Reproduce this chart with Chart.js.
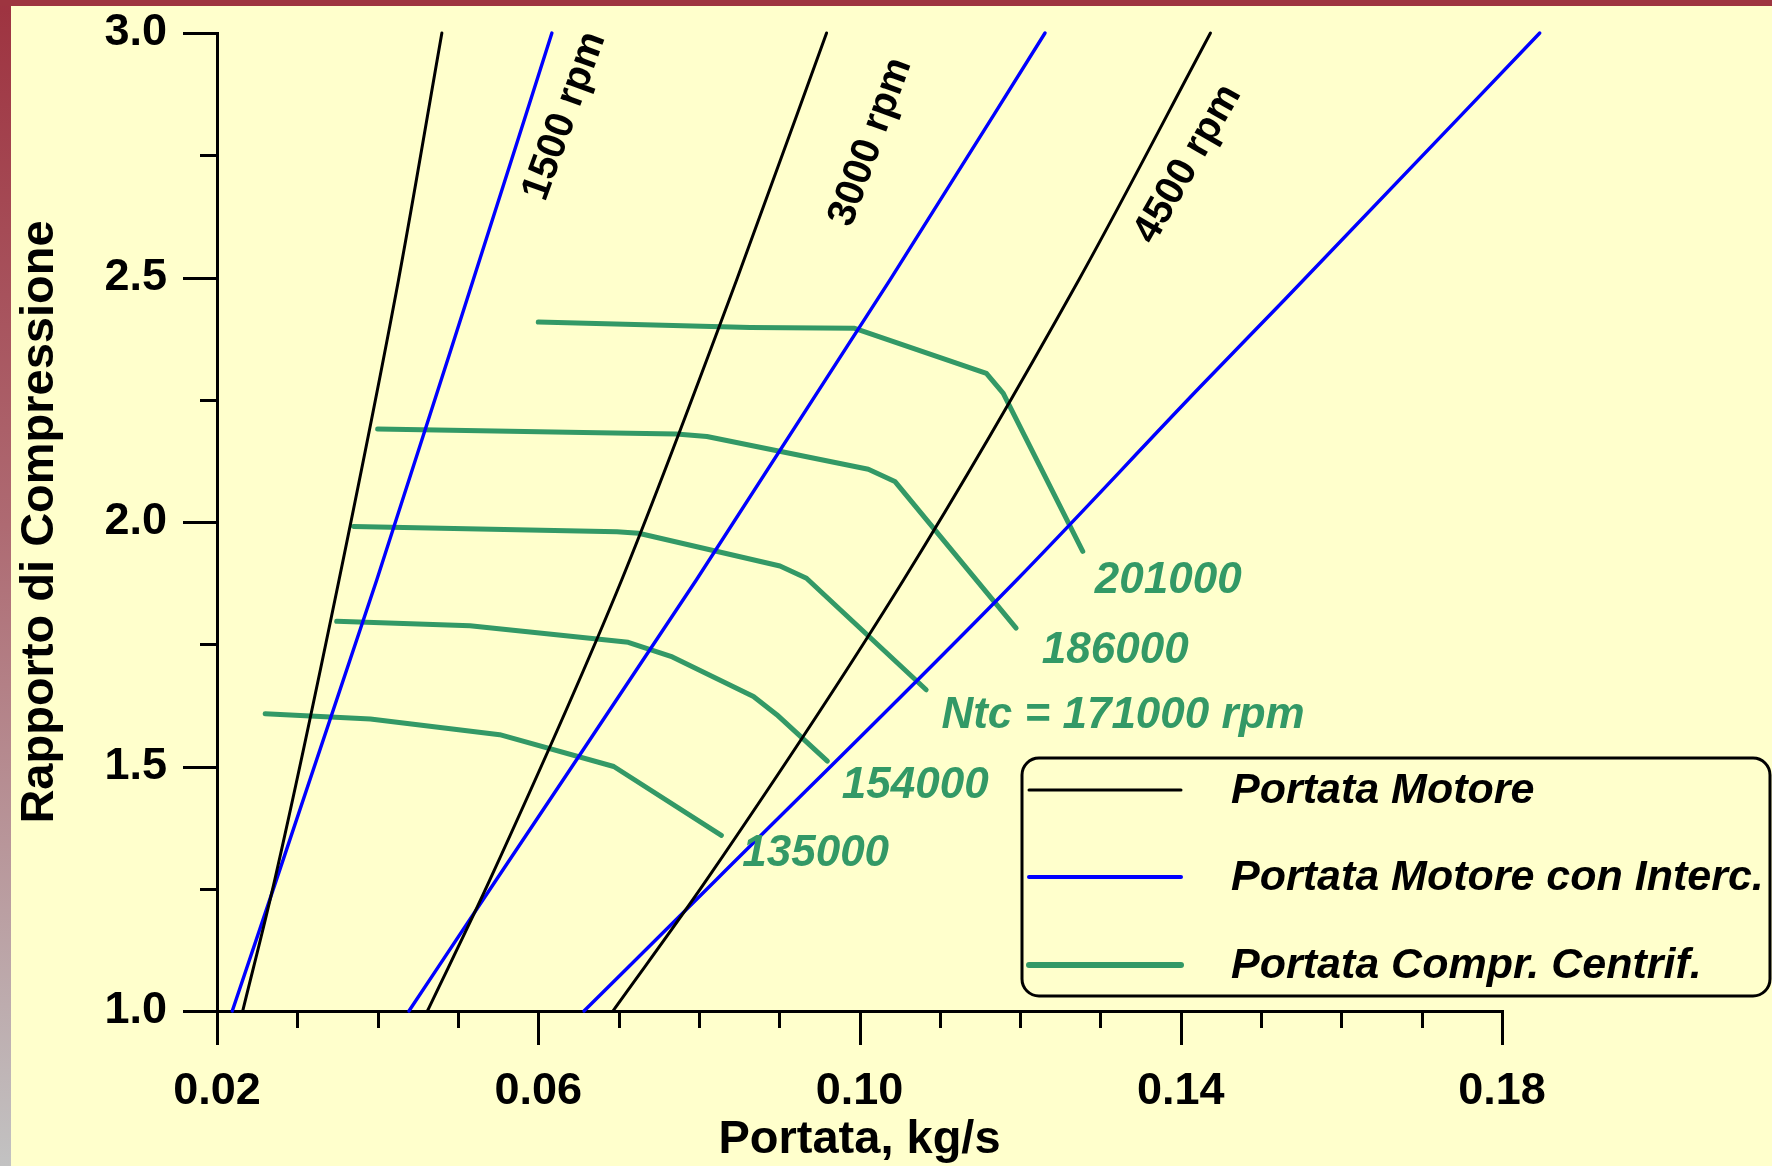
<!DOCTYPE html>
<html>
<head>
<meta charset="utf-8">
<script src="https://cdn.jsdelivr.net/npm/chart.js@4.4.1/dist/chart.umd.min.js"></script>
<style>
  html, body { margin: 0; padding: 0; background: #FFFFCC; overflow: hidden; }
  #wrap { position: relative; width: 1772px; height: 1166px; }
</style>
</head>
<body>
<div id="wrap"><canvas id="c" width="1772" height="1166"></canvas></div>
<script>
const FONT = '"Liberation Sans", Arial, Helvetica, sans-serif';
const GREEN = '#339966';

// Portata motore (senza intercooler): [portata kg/s, rapporto di compressione]
const motore1500 = [[0.0232, 1.0], [0.0272, 1.269], [0.0352, 1.882], [0.0426, 2.495], [0.0480, 3.0]];
const motore3000 = [[0.0462, 1.0], [0.0540, 1.269], [0.0704, 1.882], [0.0847, 2.495], [0.0959, 3.0]];
const motore4500 = [[0.0693, 1.0], [0.0810, 1.269], [0.1055, 1.882], [0.1273, 2.495], [0.1437, 3.0]];

// Portata motore con intercooler
const interc1500 = [[0.0219, 1.0], [0.0399, 1.882], [0.0519, 2.495], [0.0617, 3.0]];
const interc3000 = [[0.0439, 1.0], [0.0548, 1.269], [0.0797, 1.882], [0.1038, 2.495], [0.1231, 3.0]];
const interc4500 = [[0.0657, 1.0], [0.0822, 1.269], [0.1196, 1.882], [0.1424, 2.276], [0.1529, 2.454], [0.1847, 3.0]];

// Curve del compressore centrifugo a numero di giri costante
const compr135000 = [[0.0260, 1.608], [0.0391, 1.597], [0.0552, 1.565], [0.0694, 1.500], [0.0828, 1.359]];
const compr154000 = [[0.0349, 1.797], [0.0515, 1.788], [0.0712, 1.754], [0.0767, 1.724], [0.0868, 1.643], [0.0897, 1.606], [0.0960, 1.511]];
const compr171000 = [[0.0370, 1.991], [0.0698, 1.980], [0.0725, 1.977], [0.0901, 1.910], [0.0934, 1.885], [0.1083, 1.657]];
const compr186000 = [[0.0400, 2.190], [0.0656, 2.183], [0.0772, 2.180], [0.0810, 2.175], [0.1011, 2.108], [0.1044, 2.083], [0.1195, 1.783]];
const compr201000 = [[0.0600, 2.409], [0.0864, 2.398], [0.0994, 2.396], [0.1158, 2.304], [0.1179, 2.263], [0.1278, 1.940]];

// Etichette
const seriesNames = ['Portata Motore', 'Portata Motore con Interc.', 'Portata Compr. Centrif.'];
const rpmLabels = ['1500 rpm', '3000 rpm', '4500 rpm'];
const rpmLabelAt = [[0.0633, 2.830], [0.1014, 2.777], [0.1409, 2.732]];
const rpmLabelAngle = [-70, -70, -60];
const ntcLabels = ['201000', '186000', 'Ntc = 171000 rpm', '154000', '135000'];
const ntcLabelAt = [[0.1293, 1.855], [0.1227, 1.712], [0.1102, 1.579], [0.0978, 1.436], [0.0854, 1.296]];

const xMajor = [0.02, 0.06, 0.10, 0.14, 0.18];
const yMajor = [1.0, 1.5, 2.0, 2.5, 3.0];

const toXY = arr => arr.map(([x, y]) => ({ x, y }));
const line = (label, data, color, width, smooth) => ({
  label, data: toXY(data), showLine: true, borderColor: color, backgroundColor: color,
  borderWidth: width, pointRadius: 0, pointHoverRadius: 0, fill: false, clip: false,
  borderCapStyle: 'round', borderJoinStyle: 'round',
  cubicInterpolationMode: smooth ? 'monotone' : 'default', tension: 0
});

const datasets = [
  line(seriesNames[0], motore1500, '#000000', 3, true),
  line(seriesNames[0], motore3000, '#000000', 3, true),
  line(seriesNames[0], motore4500, '#000000', 3, true),
  line(seriesNames[1], interc1500, '#0000FF', 3.4, true),
  line(seriesNames[1], interc3000, '#0000FF', 3.4, true),
  line(seriesNames[1], interc4500, '#0000FF', 3.4, true),
  line(seriesNames[2], compr135000, GREEN, 5, false),
  line(seriesNames[2], compr154000, GREEN, 5, false),
  line(seriesNames[2], compr171000, GREEN, 5, false),
  line(seriesNames[2], compr186000, GREEN, 5, false),
  line(seriesNames[2], compr201000, GREEN, 5, false)
];

const isMajor = (v, list) => list.some(m => Math.abs(m - v) < 1e-6);

// Sfondo e cornice
const backdrop = {
  id: 'backdrop',
  beforeDraw(chart) {
    const { ctx, width, height } = chart;
    ctx.save();
    ctx.fillStyle = '#FFFFCC';
    ctx.fillRect(0, 0, width, height);
    const g = ctx.createLinearGradient(0, 0, 0, height);
    g.addColorStop(0, '#9E3340');
    g.addColorStop(0.45, '#AE6A72');
    g.addColorStop(1, '#C2C2C2');
    ctx.fillStyle = g;
    ctx.fillRect(0, 0, 11, height);
    ctx.fillStyle = '#9E3540';
    ctx.fillRect(0, 0, width, 6);
    ctx.restore();
  }
};

// Tacche degli assi: lunghe sui valori etichettati, corte sugli intermedi
const tickMarks = {
  id: 'tickMarks',
  afterDraw(chart) {
    const { ctx, scales: { x, y }, chartArea } = chart;
    ctx.save();
    ctx.strokeStyle = '#000';
    ctx.lineWidth = 3;
    ctx.lineCap = 'butt';
    x.ticks.forEach(t => {
      const px = Math.round(x.getPixelForValue(t.value)) + 0.5;
      const len = isMajor(t.value, xMajor) ? 34 : 17;
      ctx.beginPath();
      ctx.moveTo(px, chartArea.bottom - 1);
      ctx.lineTo(px, chartArea.bottom + len);
      ctx.stroke();
    });
    y.ticks.forEach(t => {
      const py = Math.round(y.getPixelForValue(t.value)) + 0.5;
      const len = isMajor(t.value, yMajor) ? 34 : 17;
      ctx.beginPath();
      ctx.moveTo(chartArea.left + 1, py);
      ctx.lineTo(chartArea.left - len, py);
      ctx.stroke();
    });
    ctx.restore();
  }
};

// Etichette dei regimi motore e dei giri del turbocompressore
const curveLabels = {
  id: 'curveLabels',
  afterDatasetsDraw(chart) {
    const { ctx, scales: { x, y } } = chart;
    ctx.save();
    ctx.fillStyle = '#000';
    ctx.font = 'bold 40px ' + FONT;
    ctx.textAlign = 'center';
    ctx.textBaseline = 'middle';
    rpmLabels.forEach((txt, i) => {
      const [vx, vy] = rpmLabelAt[i];
      ctx.save();
      ctx.translate(x.getPixelForValue(vx), y.getPixelForValue(vy));
      ctx.rotate(rpmLabelAngle[i] * Math.PI / 180);
      ctx.fillText(txt, 0, 0);
      ctx.restore();
    });
    ctx.fillStyle = GREEN;
    ctx.font = 'italic bold 44px ' + FONT;
    ctx.textAlign = 'left';
    ctx.textBaseline = 'alphabetic';
    ntcLabels.forEach((txt, i) => {
      const [vx, vy] = ntcLabelAt[i];
      ctx.fillText(txt, x.getPixelForValue(vx), y.getPixelForValue(vy));
    });
    ctx.restore();
  }
};

// Legenda in riquadro arrotondato
const boxLegend = {
  id: 'boxLegend',
  afterDraw(chart) {
    const { ctx } = chart;
    const left = 1022, top = 758, right = 1770, bottom = 996, r = 17;
    ctx.save();
    ctx.beginPath();
    ctx.moveTo(left + r, top);
    ctx.lineTo(right - r, top);
    ctx.arcTo(right, top, right, top + r, r);
    ctx.lineTo(right, bottom - r);
    ctx.arcTo(right, bottom, right - r, bottom, r);
    ctx.lineTo(left + r, bottom);
    ctx.arcTo(left, bottom, left, bottom - r, r);
    ctx.lineTo(left, top + r);
    ctx.arcTo(left, top, left + r, top, r);
    ctx.closePath();
    ctx.fillStyle = '#FFFFCC';
    ctx.fill();
    ctx.strokeStyle = '#000';
    ctx.lineWidth = 3;
    ctx.stroke();

    const rows = [
      { name: seriesNames[0], color: '#000000', w: 3, yy: 790 },
      { name: seriesNames[1], color: '#0000FF', w: 4, yy: 877 },
      { name: seriesNames[2], color: GREEN, w: 6, yy: 965 }
    ];
    ctx.font = 'italic bold 43px ' + FONT;
    ctx.textAlign = 'left';
    ctx.textBaseline = 'middle';
    rows.forEach(rw => {
      ctx.beginPath();
      ctx.strokeStyle = rw.color;
      ctx.lineWidth = rw.w;
      ctx.lineCap = 'round';
      ctx.moveTo(1029, rw.yy);
      ctx.lineTo(1181, rw.yy);
      ctx.stroke();
      ctx.fillStyle = '#000';
      ctx.fillText(rw.name, 1231, rw.yy + 1);
    });
    ctx.restore();
  }
};

const axisFont = { family: FONT, size: 45, weight: 'bold' };
const titleFont = { family: FONT, size: 47, weight: 'bold', lineHeight: 1.1 };

new Chart(document.getElementById('c'), {
  type: 'scatter',
  data: { datasets },
  options: {
    responsive: false,
    animation: false,
    devicePixelRatio: 1,
    events: [],
    layout: { padding: { left: 0, top: 33, right: 270, bottom: 0 } },
    plugins: { legend: { display: false }, tooltip: { enabled: false } },
    scales: {
      x: {
        type: 'linear', min: 0.02, max: 0.18,
        afterFit(s) { s.height = 155; s.paddingLeft = 0; s.paddingRight = 0; },
        ticks: {
          stepSize: 0.01, autoSkip: false, maxRotation: 0, padding: 20, color: '#000', font: axisFont,
          callback: v => isMajor(v, xMajor) ? v.toFixed(2) : ''
        },
        grid: { drawOnChartArea: false, drawTicks: true, tickLength: 34, color: 'rgba(0,0,0,0)' },
        border: { display: true, color: '#000', width: 3 },
        title: { display: true, text: 'Portata, kg/s', color: '#000', font: titleFont, padding: 0 }
      },
      y: {
        type: 'linear', min: 1, max: 3,
        afterFit(s) { s.width = 217; s.paddingTop = 0; s.paddingBottom = 0; },
        ticks: {
          stepSize: 0.25, autoSkip: false, padding: 16, color: '#000', font: axisFont,
          callback: v => isMajor(v, yMajor) ? v.toFixed(1) : ''
        },
        grid: { drawOnChartArea: false, drawTicks: true, tickLength: 34, color: 'rgba(0,0,0,0)' },
        border: { display: true, color: '#000', width: 3 },
        title: { display: true, text: 'Rapporto di Compressione', color: '#000', font: titleFont, padding: { top: 14, bottom: 0 } }
      }
    }
  },
  plugins: [backdrop, tickMarks, curveLabels, boxLegend]
});
</script>
</body>
</html>
